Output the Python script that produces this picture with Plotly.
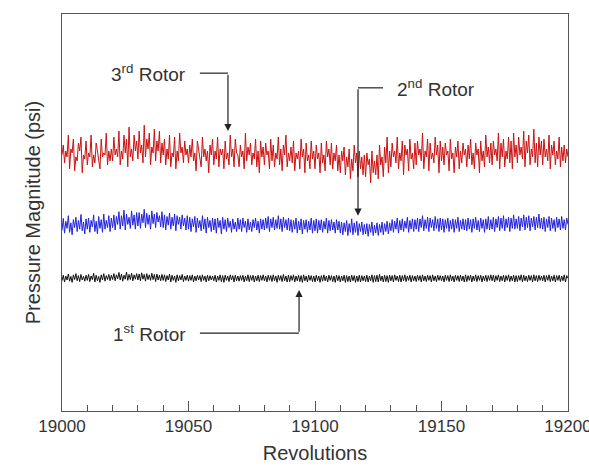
import plotly.graph_objects as go

revolutions = [19000 + 0.5 * i for i in range(401)]

rotor3 = [
    6.45, 6.70, 6.25, 6.55, 6.40, 6.95, 6.10, 6.60, 6.50, 6.85, 6.05, 6.40, 6.30, 6.75, 6.55, 6.90, 6.00, 6.45, 6.35, 6.80,
    6.20, 6.50, 6.40, 6.95, 6.15, 6.45, 6.25, 6.75, 6.55, 6.35, 6.10, 6.85, 6.40, 6.50, 6.45, 7.00, 6.20, 6.55, 6.30, 6.60,
    6.30, 6.90, 6.45, 6.60, 6.40, 7.05, 6.20, 6.55, 6.35, 6.95, 6.50, 6.85, 6.15, 7.15, 6.40, 6.60, 6.30, 6.95, 6.55, 6.80,
    6.35, 7.05, 6.50, 6.70, 6.25, 7.20, 6.40, 6.85, 6.60, 7.00, 6.20, 6.65, 6.50, 7.10, 6.30, 6.80, 6.55, 7.05, 6.25, 6.75,
    6.45, 6.85, 6.20, 6.60, 6.35, 6.95, 6.15, 6.50, 6.40, 6.90, 6.10, 6.55, 6.30, 7.00, 6.50, 6.65, 6.25, 6.80, 6.45, 6.60,
    6.25, 6.70, 6.40, 6.85, 6.30, 6.50, 6.05, 6.80, 6.55, 6.35, 6.15, 6.90, 6.40, 6.60, 6.30, 6.55, 6.00, 6.70, 6.45, 6.85,
    6.20, 6.55, 6.35, 6.90, 6.15, 6.60, 6.45, 6.60, 6.10, 6.80, 6.35, 6.50, 6.20, 6.95, 6.40, 6.60, 6.15, 6.85, 6.50, 6.45,
    6.15, 6.70, 6.40, 6.55, 6.10, 7.00, 6.30, 6.65, 6.45, 6.75, 6.20, 6.50, 6.35, 6.85, 6.15, 6.55, 6.00, 6.80, 6.40, 6.65,
    6.20, 6.75, 6.45, 6.55, 6.10, 6.85, 6.30, 6.70, 6.15, 6.50, 6.35, 6.90, 6.20, 6.60, 6.05, 6.70, 6.45, 6.95, 6.15, 6.50,
    6.30, 6.65, 6.25, 6.80, 6.05, 6.50, 6.35, 6.55, 6.10, 6.85, 6.40, 6.60, 6.00, 6.75, 6.30, 6.45, 6.10, 6.80, 6.35, 6.55,
    6.10, 6.70, 6.35, 6.50, 6.00, 6.75, 6.25, 6.45, 6.05, 6.80, 6.40, 6.60, 6.20, 6.75, 6.10, 6.50, 6.30, 6.70, 6.05, 6.45,
    6.00, 6.55, 6.30, 6.65, 5.95, 6.40, 6.15, 6.60, 5.85, 6.35, 6.05, 6.70, 6.25, 6.50, 5.90, 6.55, 6.10, 6.40, 5.95, 6.45,
    5.90, 6.50, 6.20, 6.35, 5.75, 6.55, 6.00, 6.30, 5.95, 6.45, 5.85, 6.70, 6.20, 6.40, 5.90, 6.65, 6.25, 6.90, 6.00, 6.55,
    6.15, 6.75, 6.40, 6.55, 6.25, 6.90, 6.10, 6.50, 6.30, 6.80, 5.95, 6.70, 6.45, 6.60, 6.05, 6.85, 6.35, 6.50, 6.10, 6.75,
    6.20, 6.80, 6.45, 6.60, 6.30, 7.00, 6.10, 6.55, 6.40, 6.85, 6.05, 6.75, 6.35, 6.50, 6.25, 6.90, 6.45, 6.70, 6.00, 6.80,
    6.30, 6.65, 6.20, 6.75, 6.45, 6.55, 6.05, 6.85, 6.35, 6.50, 6.00, 6.65, 6.40, 6.80, 6.10, 6.55, 6.25, 6.75, 6.45, 6.60,
    6.15, 6.70, 6.35, 6.85, 6.20, 6.50, 6.10, 6.75, 6.45, 6.60, 6.00, 6.80, 6.30, 6.55, 6.15, 6.95, 6.40, 6.65, 6.25, 6.75,
    6.20, 6.80, 6.45, 6.60, 6.30, 7.00, 6.10, 6.75, 6.40, 6.85, 6.15, 6.55, 6.35, 6.90, 6.25, 6.80, 6.10, 7.00, 6.40, 6.70,
    6.25, 6.90, 6.45, 6.65, 6.35, 7.05, 6.15, 6.80, 6.50, 6.95, 6.20, 6.60, 6.40, 7.10, 6.25, 6.75, 6.15, 6.90, 6.45, 6.80,
    6.20, 6.85, 6.40, 6.60, 6.30, 6.95, 6.10, 6.70, 6.45, 6.80, 6.20, 6.55, 6.35, 6.90, 6.15, 6.65, 6.30, 6.70, 6.25, 6.60,
    6.40,
]

rotor2 = [
    4.55, 4.85, 4.48, 4.78, 4.60, 4.92, 4.50, 4.74, 4.44, 4.82, 4.62, 4.88, 4.52, 4.80, 4.58, 4.95, 4.54, 4.76, 4.46, 4.84,
    4.58, 4.86, 4.50, 4.80, 4.64, 4.94, 4.52, 4.78, 4.46, 4.90, 4.60, 4.82, 4.50, 4.96, 4.58, 4.80, 4.62, 4.92, 4.52, 4.86,
    4.62, 4.94, 4.56, 4.90, 4.70, 5.02, 4.58, 4.92, 4.66, 5.06, 4.56, 4.96, 4.70, 4.88, 4.60, 5.04, 4.68, 4.94, 4.58, 5.00,
    4.66, 5.00, 4.60, 4.96, 4.74, 5.08, 4.62, 4.98, 4.70, 4.94, 4.58, 5.04, 4.72, 4.96, 4.62, 5.00, 4.76, 4.92, 4.64, 5.02,
    4.62, 4.94, 4.56, 4.90, 4.68, 4.98, 4.58, 4.88, 4.66, 4.96, 4.54, 4.92, 4.70, 4.88, 4.58, 4.94, 4.66, 4.86, 4.56, 4.92,
    4.58, 4.88, 4.52, 4.84, 4.64, 4.90, 4.50, 4.86, 4.62, 4.80, 4.54, 4.92, 4.58, 4.84, 4.48, 4.88, 4.62, 4.80, 4.52, 4.86,
    4.56, 4.84, 4.48, 4.86, 4.62, 4.80, 4.46, 4.88, 4.58, 4.82, 4.52, 4.86, 4.62, 4.78, 4.50, 4.84, 4.58, 4.76, 4.52, 4.86,
    4.58, 4.82, 4.52, 4.86, 4.62, 4.78, 4.50, 4.84, 4.56, 4.76, 4.52, 4.82, 4.62, 4.86, 4.56, 4.78, 4.48, 4.84, 4.58, 4.82,
    4.56, 4.86, 4.60, 4.90, 4.52, 4.84, 4.62, 4.88, 4.56, 4.82, 4.60, 4.92, 4.58, 4.84, 4.52, 4.88, 4.62, 4.82, 4.56, 4.86,
    4.54, 4.82, 4.50, 4.80, 4.58, 4.86, 4.48, 4.78, 4.56, 4.84, 4.46, 4.80, 4.58, 4.82, 4.50, 4.78, 4.56, 4.86, 4.48, 4.80,
    4.54, 4.84, 4.48, 4.80, 4.56, 4.82, 4.50, 4.78, 4.58, 4.86, 4.48, 4.80, 4.54, 4.82, 4.56, 4.76, 4.48, 4.82, 4.56, 4.78,
    4.48, 4.76, 4.44, 4.74, 4.52, 4.80, 4.42, 4.72, 4.50, 4.84, 4.44, 4.74, 4.50, 4.78, 4.42, 4.72, 4.52, 4.76, 4.44, 4.70,
    4.46, 4.72, 4.40, 4.70, 4.50, 4.76, 4.42, 4.68, 4.48, 4.74, 4.42, 4.70, 4.50, 4.76, 4.44, 4.72, 4.52, 4.78, 4.46, 4.74,
    4.54, 4.82, 4.50, 4.78, 4.58, 4.86, 4.48, 4.80, 4.56, 4.84, 4.52, 4.78, 4.60, 4.88, 4.50, 4.80, 4.58, 4.84, 4.52, 4.82,
    4.58, 4.86, 4.52, 4.84, 4.62, 4.92, 4.54, 4.82, 4.60, 4.88, 4.52, 4.86, 4.62, 4.82, 4.54, 4.90, 4.60, 4.84, 4.52, 4.86,
    4.56, 4.84, 4.50, 4.82, 4.60, 4.86, 4.52, 4.80, 4.58, 4.84, 4.50, 4.82, 4.60, 4.88, 4.52, 4.80, 4.58, 4.84, 4.56, 4.82,
    4.54, 4.86, 4.58, 4.82, 4.50, 4.84, 4.60, 4.88, 4.56, 4.80, 4.52, 4.86, 4.60, 4.82, 4.50, 4.84, 4.58, 4.90, 4.56, 4.82,
    4.58, 4.88, 4.52, 4.84, 4.62, 4.90, 4.54, 4.86, 4.60, 4.92, 4.54, 4.84, 4.62, 4.88, 4.52, 4.86, 4.60, 4.94, 4.58, 4.84,
    4.60, 4.90, 4.54, 4.86, 4.64, 4.94, 4.56, 4.88, 4.62, 4.92, 4.54, 4.86, 4.64, 4.90, 4.56, 4.88, 4.62, 4.96, 4.60, 4.86,
    4.58, 4.88, 4.52, 4.84, 4.62, 4.90, 4.54, 4.86, 4.60, 4.82, 4.52, 4.88, 4.62, 4.84, 4.56, 4.90, 4.60, 4.82, 4.56, 4.86,
    4.70,
]

rotor1 = [
    3.28, 3.42, 3.25, 3.40, 3.30, 3.45, 3.27, 3.39, 3.24, 3.43, 3.31, 3.46, 3.28, 3.41, 3.26, 3.44, 3.30, 3.39, 3.27, 3.42,
    3.29, 3.44, 3.26, 3.40, 3.31, 3.47, 3.25, 3.42, 3.28, 3.39, 3.24, 3.43, 3.30, 3.46, 3.27, 3.41, 3.31, 3.44, 3.28, 3.42,
    3.31, 3.46, 3.28, 3.43, 3.33, 3.49, 3.30, 3.45, 3.27, 3.42, 3.32, 3.50, 3.29, 3.44, 3.31, 3.47, 3.28, 3.43, 3.32, 3.46,
    3.30, 3.45, 3.28, 3.48, 3.32, 3.44, 3.27, 3.46, 3.31, 3.43, 3.29, 3.47, 3.31, 3.44, 3.26, 3.45, 3.30, 3.42, 3.28, 3.44,
    3.29, 3.43, 3.26, 3.41, 3.30, 3.45, 3.25, 3.42, 3.29, 3.40, 3.24, 3.43, 3.28, 3.41, 3.30, 3.44, 3.26, 3.40, 3.29, 3.42,
    3.27, 3.41, 3.29, 3.43, 3.25, 3.40, 3.28, 3.42, 3.30, 3.41, 3.26, 3.43, 3.29, 3.40, 3.25, 3.42, 3.28, 3.41, 3.30, 3.40,
    3.28, 3.42, 3.25, 3.40, 3.29, 3.43, 3.26, 3.41, 3.24, 3.42, 3.29, 3.40, 3.26, 3.43, 3.30, 3.41, 3.25, 3.42, 3.28, 3.40,
    3.27, 3.41, 3.29, 3.42, 3.25, 3.40, 3.28, 3.43, 3.26, 3.41, 3.29, 3.42, 3.25, 3.40, 3.28, 3.42, 3.26, 3.41, 3.29, 3.43,
    3.28, 3.40, 3.25, 3.42, 3.29, 3.41, 3.26, 3.43, 3.28, 3.40, 3.24, 3.42, 3.29, 3.41, 3.26, 3.44, 3.28, 3.40, 3.25, 3.42,
    3.26, 3.41, 3.29, 3.43, 3.25, 3.40, 3.28, 3.42, 3.26, 3.41, 3.24, 3.43, 3.28, 3.40, 3.25, 3.42, 3.29, 3.41, 3.26, 3.40,
    3.25, 3.42, 3.28, 3.40, 3.24, 3.41, 3.27, 3.43, 3.28, 3.40, 3.25, 3.42, 3.29, 3.41, 3.26, 3.40, 3.24, 3.42, 3.28, 3.41,
    3.25, 3.40, 3.28, 3.42, 3.24, 3.41, 3.26, 3.40, 3.25, 3.42, 3.28, 3.41, 3.24, 3.40, 3.26, 3.42, 3.25, 3.41, 3.28, 3.40,
    3.26, 3.42, 3.25, 3.40, 3.28, 3.43, 3.24, 3.41, 3.26, 3.42, 3.25, 3.44, 3.28, 3.40, 3.25, 3.42, 3.26, 3.41, 3.24, 3.42,
    3.28, 3.41, 3.25, 3.43, 3.29, 3.40, 3.26, 3.42, 3.25, 3.41, 3.28, 3.43, 3.26, 3.40, 3.29, 3.42, 3.25, 3.41, 3.28, 3.40,
    3.26, 3.42, 3.29, 3.41, 3.25, 3.43, 3.28, 3.40, 3.26, 3.42, 3.29, 3.41, 3.25, 3.43, 3.28, 3.40, 3.26, 3.42, 3.29, 3.41,
    3.28, 3.40, 3.25, 3.42, 3.29, 3.41, 3.26, 3.43, 3.28, 3.40, 3.25, 3.42, 3.29, 3.41, 3.26, 3.42, 3.28, 3.40, 3.25, 3.43,
    3.26, 3.41, 3.29, 3.42, 3.25, 3.40, 3.28, 3.43, 3.26, 3.41, 3.29, 3.42, 3.25, 3.40, 3.28, 3.42, 3.26, 3.41, 3.29, 3.43,
    3.28, 3.42, 3.25, 3.41, 3.29, 3.43, 3.26, 3.40, 3.28, 3.42, 3.25, 3.41, 3.29, 3.43, 3.26, 3.40, 3.28, 3.42, 3.25, 3.41,
    3.26, 3.41, 3.29, 3.43, 3.25, 3.42, 3.28, 3.40, 3.26, 3.42, 3.29, 3.41, 3.25, 3.43, 3.28, 3.41, 3.26, 3.42, 3.29, 3.40,
    3.28, 3.42, 3.25, 3.41, 3.29, 3.43, 3.26, 3.40, 3.28, 3.42, 3.25, 3.41, 3.29, 3.42, 3.26, 3.40, 3.28, 3.43, 3.25, 3.41,
    3.34,
]

x_ticks = [19000, 19050, 19100, 19150, 19200]

FONT = "Liberation Sans, Arial, sans-serif"
TXT = "#333333"

fig = go.Figure()
fig.add_trace(go.Scatter(x=revolutions, y=rotor3, mode="lines",
                         line=dict(color="#cc1111", width=1), name="3rd Rotor"))
fig.add_trace(go.Scatter(x=revolutions, y=rotor2, mode="lines",
                         line=dict(color="#2222dd", width=1), name="2nd Rotor"))
fig.add_trace(go.Scatter(x=revolutions, y=rotor1, mode="lines",
                         line=dict(color="#111111", width=1), name="1st Rotor"))

axis_line = "#555555"

fig.update_layout(
    width=589, height=471,
    margin=dict(l=62, r=21, t=14, b=60),
    paper_bgcolor="white", plot_bgcolor="white",
    showlegend=False,
    font=dict(family=FONT, color=TXT),
    xaxis=dict(
        range=[19000, 19200], tickvals=x_ticks, ticktext=[str(v) for v in x_ticks],
        ticks="inside", ticklen=10, tickwidth=1, tickcolor=axis_line,
        minor=dict(dtick=10, ticks="inside", ticklen=6, tickwidth=1, tickcolor=axis_line),
        showline=True, linecolor=axis_line, linewidth=1, mirror=True,
        showgrid=False, zeroline=False, automargin=False,
        ticklabeloverflow="allow",
        tickfont=dict(size=17, family=FONT, color=TXT),
        title=dict(text="Revolutions", font=dict(size=20, family=FONT, color=TXT), standoff=10),
    ),
    yaxis=dict(
        range=[0, 10], showticklabels=False, ticks="",
        showline=True, linecolor=axis_line, linewidth=1, mirror=True,
        showgrid=False, zeroline=False, automargin=False,
        title=dict(text="Pressure Magnitude (psi)", font=dict(size=20, family=FONT, color=TXT), standoff=15),
    ),
)

line_style = dict(color="#222222", width=1.2)
ANN = dict(size=19, family=FONT, color=TXT)
# 3rd rotor
fig.add_shape(type="line", xref="x", yref="y", x0=19054.5, x1=19065.6, y0=8.51, y1=8.51, line=line_style)
fig.add_annotation(x=19065.6, y=7.05, ax=19065.6, ay=8.51, axref="x", ayref="y",
                   text="", showarrow=True, arrowhead=2, arrowsize=1.2, arrowwidth=1.2, arrowcolor="#222222")
fig.add_annotation(x=19049.8, y=8.51, text="3<sup>rd</sup> Rotor", showarrow=False, xanchor="right", font=ANN)
# 2nd rotor
fig.add_shape(type="line", xref="x", yref="y", x0=19126.9, x1=19117.0, y0=8.14, y1=8.14, line=line_style)
fig.add_annotation(x=19117.0, y=4.92, ax=19117.0, ay=8.14, axref="x", ayref="y",
                   text="", showarrow=True, arrowhead=2, arrowsize=1.2, arrowwidth=1.2, arrowcolor="#222222")
fig.add_annotation(x=19131.6, y=8.14, text="2<sup>nd</sup> Rotor", showarrow=False, xanchor="left", font=ANN)
# 1st rotor
fig.add_shape(type="line", xref="x", yref="y", x0=19054.5, x1=19093.7, y0=1.96, y1=1.96, line=line_style)
fig.add_annotation(x=19093.7, y=3.05, ax=19093.7, ay=1.96, axref="x", ayref="y",
                   text="", showarrow=True, arrowhead=2, arrowsize=1.2, arrowwidth=1.2, arrowcolor="#222222")
fig.add_annotation(x=19049.8, y=1.96, text="1<sup>st</sup> Rotor", showarrow=False, xanchor="right", font=ANN)

fig.write_html("out.html")
